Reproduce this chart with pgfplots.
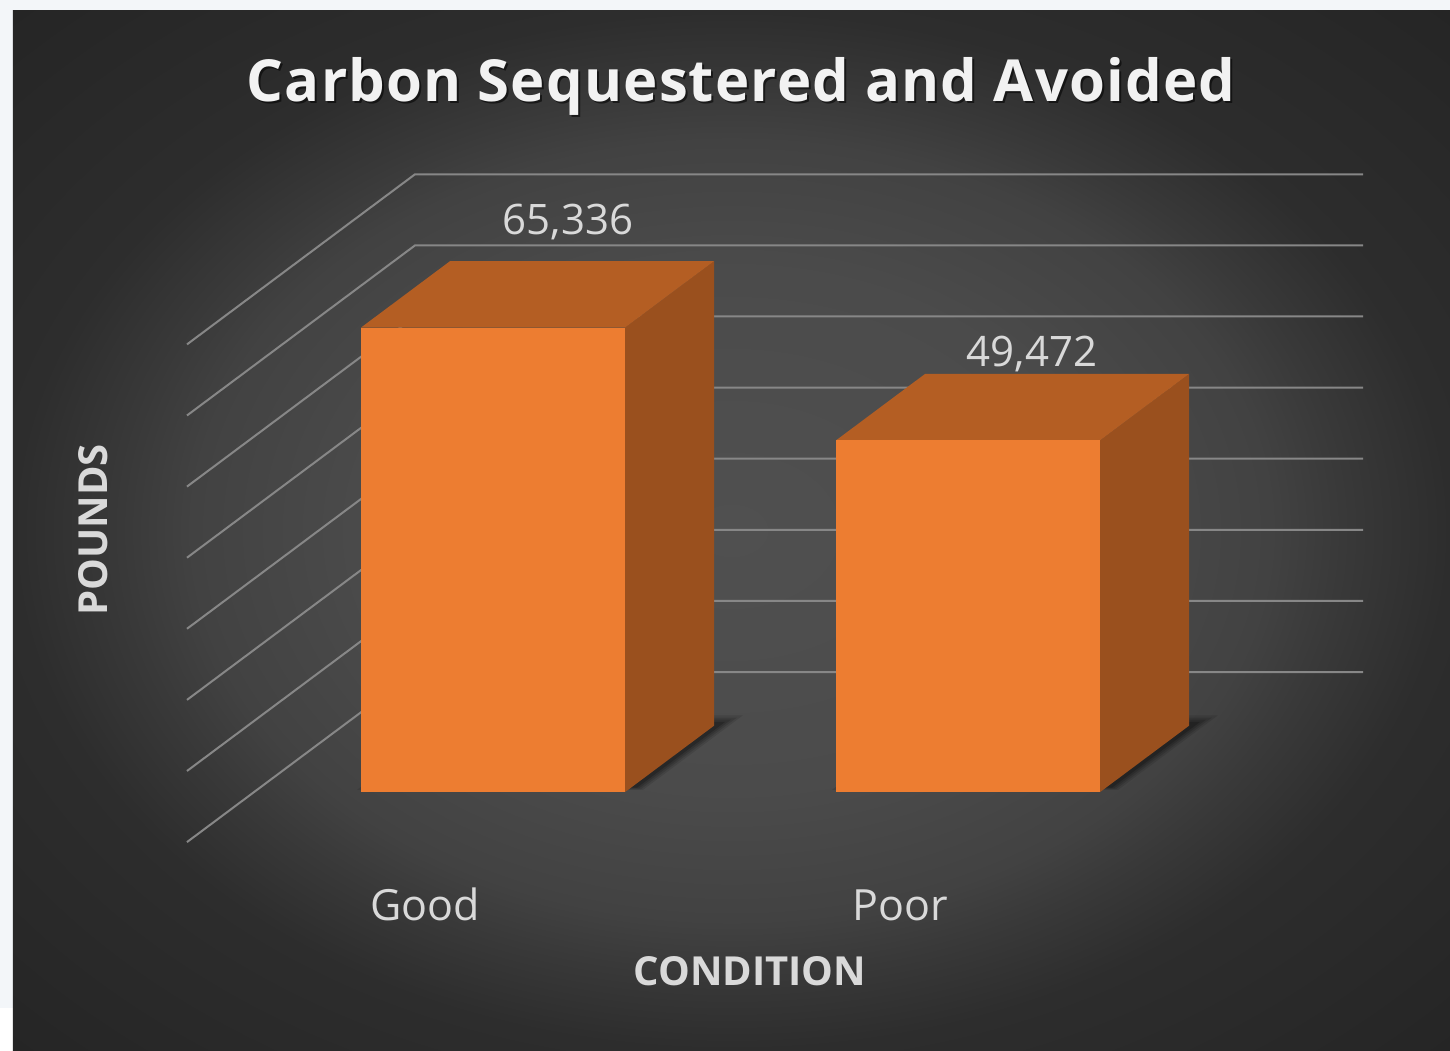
\documentclass[border=0pt]{standalone}
\usepackage{fontspec}
\setmainfont{Open Sans}
\usepackage{pgfplots}
\pgfplotsset{compat=1.18}
\usetikzlibrary{backgrounds,calc}
\definecolor{barfront}{HTML}{ED7D31}
\definecolor{bartop}{HTML}{B45E23}
\definecolor{barside}{HTML}{9A501E}
\definecolor{gridc}{HTML}{878787}
\definecolor{txt}{HTML}{D9D9D9}
\definecolor{titlec}{HTML}{F2F2F2}
\definecolor{pagec}{HTML}{F3F6F9}
\definecolor{bgA}{HTML}{505050}
\definecolor{bgB}{HTML}{4B4B4B}
\definecolor{bgC}{HTML}{424242}
\definecolor{bgD}{HTML}{393939}
\definecolor{bgE}{HTML}{2D2D2D}
\definecolor{bgF}{HTML}{252525}
\pgfdeclareradialshading{bgshade}{\pgfpoint{0bp}{0bp}}{color(0bp)=(bgA); color(12.5bp)=(bgB); color(18.75bp)=(bgC); color(21.25bp)=(bgD); color(25bp)=(bgE); color(35.5bp)=(bgF)}
\begin{document}
\begin{tikzpicture}
\begin{axis}[
  x={(1pt,0pt)}, y={(-1pt,-0.746pt)}, z={(0pt,0.00711pt)},
  xmin=415, xmax=1363, ymin=0, ymax=228, zmin=0, zmax=70000,
  hide axis, clip=false,
]
% gridlines: left wall and back wall
\addplot3[gridc, line width=2pt] coordinates {(415,228,0) (415,0,0) (1363,0,0)};
\addplot3[gridc, line width=2pt] coordinates {(415,228,10000) (415,0,10000) (1363,0,10000)};
\addplot3[gridc, line width=2pt] coordinates {(415,228,20000) (415,0,20000) (1363,0,20000)};
\addplot3[gridc, line width=2pt] coordinates {(415,228,30000) (415,0,30000) (1363,0,30000)};
\addplot3[gridc, line width=2pt] coordinates {(415,228,40000) (415,0,40000) (1363,0,40000)};
\addplot3[gridc, line width=2pt] coordinates {(415,228,50000) (415,0,50000) (1363,0,50000)};
\addplot3[gridc, line width=2pt] coordinates {(415,228,60000) (415,0,60000) (1363,0,60000)};
\addplot3[gridc, line width=2pt] coordinates {(415,228,70000) (415,0,70000) (1363,0,70000)};
% soft floor shadows
\addplot3[fill=black, fill opacity=0.10, draw=none] coordinates {(515,158,0) (801,158,0) (801,58,0) (515,58,0)};
\addplot3[fill=black, fill opacity=0.12, draw=none] coordinates {(518,157,0) (798,157,0) (798,61,0) (518,61,0)};
\addplot3[fill=black, fill opacity=0.15, draw=none] coordinates {(521,156,0) (795,156,0) (795,64,0) (521,64,0)};
\addplot3[fill=black, fill opacity=0.20, draw=none] coordinates {(524,155,0) (792,155,0) (792,67,0) (524,67,0)};
\addplot3[fill=black, fill opacity=0.10, draw=none] coordinates {(990,158,0) (1276,158,0) (1276,58,0) (990,58,0)};
\addplot3[fill=black, fill opacity=0.12, draw=none] coordinates {(993,157,0) (1273,157,0) (1273,61,0) (993,61,0)};
\addplot3[fill=black, fill opacity=0.15, draw=none] coordinates {(996,156,0) (1270,156,0) (1270,64,0) (996,64,0)};
\addplot3[fill=black, fill opacity=0.20, draw=none] coordinates {(999,155,0) (1267,155,0) (1267,67,0) (999,67,0)};
% bar Good = 65336
\addplot3[fill=barside, draw=none] coordinates {(786,161,0) (786,72,0) (786,72,65336) (786,161,65336)};
\addplot3[fill=bartop, draw=none] coordinates {(522,161,65336) (786,161,65336) (786,72,65336) (522,72,65336)};
\addplot3[fill=barfront, draw=none] coordinates {(522,161,0) (786,161,0) (786,161,65336) (522,161,65336)};
% bar Poor = 49472
\addplot3[fill=barside, draw=none] coordinates {(1261,161,0) (1261,72,0) (1261,72,49472) (1261,161,49472)};
\addplot3[fill=bartop, draw=none] coordinates {(997,161,49472) (1261,161,49472) (1261,72,49472) (997,72,49472)};
\addplot3[fill=barfront, draw=none] coordinates {(997,161,0) (1261,161,0) (1261,161,49472) (997,161,49472)};
\coordinate (O) at (axis cs:415,0,0);
\end{axis}
\pgfresetboundingbox
\path[use as bounding box] ($(O)+(-415pt,672pt)$) rectangle ($(O)+(1035pt,-378pt)$);
\begin{scope}[on background layer]
\fill[pagec] ($(O)+(-415pt,672pt)$) rectangle ($(O)+(1035pt,-378pt)$);
\fill[white] ($(O)+(-415pt,-336pt)$) rectangle ($(O)+(-402pt,-378pt)$);
\shade[shading=bgshade] ($(O)+(-402pt,661pt)$) rectangle ($(O)+(1035pt,-378pt)$);
\end{scope}
% texts
\node[anchor=base, text=black, opacity=0.55, font=\fontsize{58}{70}\selectfont\bfseries\addfontfeatures{LetterSpace=2}] at ($(O)+(328pt,568pt)$) {Carbon Sequestered and Avoided};
\node[anchor=base, text=titlec, font=\fontsize{58}{70}\selectfont\bfseries\addfontfeatures{LetterSpace=2}] at ($(O)+(326pt,570pt)$) {Carbon Sequestered and Avoided};
\node[anchor=base, text=txt, font=\fontsize{42}{50}\selectfont] at ($(O)+(153pt,437pt)$) {65,336};
\node[anchor=base, text=txt, font=\fontsize{42}{50}\selectfont] at ($(O)+(617pt,305pt)$) {49,472};
\node[anchor=base, text=txt, font=\fontsize{43}{50}\selectfont] at ($(O)+(10pt,-248pt)$) {Good};
\node[anchor=base, text=txt, font=\fontsize{43}{50}\selectfont] at ($(O)+(485pt,-248pt)$) {Poor};
\node[anchor=base, text=txt, font=\fontsize{40}{48}\selectfont\bfseries] at ($(O)+(335pt,-313pt)$) {CONDITION};
\node[anchor=base, rotate=90, text=txt, font=\fontsize{40}{48}\selectfont\bfseries] at ($(O)+(-307pt,142pt)$) {POUNDS};
\end{tikzpicture}
\end{document}
